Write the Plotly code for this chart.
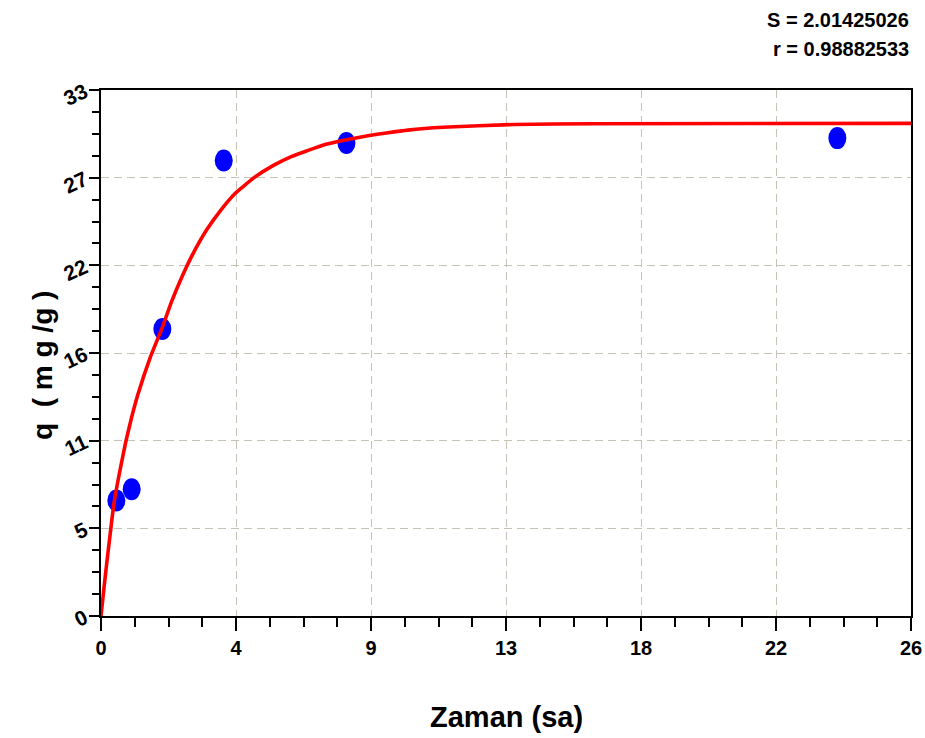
import plotly.graph_objects as go

# Measured adsorption capacity over time
time_h = [0.5, 1, 2, 4, 8, 24]
q_obs = [7.2, 7.9, 17.9, 28.4, 29.5, 29.8]

# Fitted kinetic curve (sampled)
fit_t = [0, 0.1, 0.2, 0.42, 0.6, 0.8, 1.0, 1.2, 1.6, 2.0, 2.3, 2.65, 3.0,
         3.45, 3.9, 4.37, 5.0, 5.62, 6.2, 6.7, 7.3, 8.0, 8.7, 9.3, 10.0,
         11.15, 13.45, 16.0, 26.4]
fit_q = [0, 1.8, 3.5, 7.0, 8.9, 10.8, 12.4, 13.8, 16.1, 18.0, 19.6, 21.2,
         22.6, 24.1, 25.3, 26.35, 27.35, 28.1, 28.65, 29.0, 29.4, 29.7, 29.95,
         30.12, 30.3, 30.48, 30.65, 30.7, 30.72]

# Axis extents and tick labels
x_max = 26.4
y_max = 32.8
x_tick_text = ["0", "4", "9", "13", "18", "22", "26"]
y_tick_text = ["0", "5", "11", "16", "22", "27", "33"]

fit_stats = ["S = 2.01425026", "r = 0.98882533"]

FONT = "Liberation Sans Narrow, Arial Narrow, Liberation Sans, Arial, sans-serif"
PLOT_H = 738 - 90 - 122

x_step = x_max / (len(x_tick_text) - 1)
y_step = y_max / (len(y_tick_text) - 1)
x_ticks = [i * x_step for i in range(len(x_tick_text))]
y_ticks = [i * y_step for i in range(len(y_tick_text))]

fig = go.Figure()

# Fitted curve, drawn above the data ellipses
fig.add_trace(go.Scatter(
    x=fit_t, y=fit_q, mode="lines",
    line=dict(color="#ff0000", width=3.6, shape="spline", smoothing=0.4),
    hoverinfo="skip", showlegend=False,
))

# Observed points as blue ellipses anchored at data coordinates
shapes = []
for t, q in zip(time_h, q_obs):
    shapes.append(dict(
        type="circle", xref="x", yref="y",
        xsizemode="pixel", ysizemode="pixel",
        xanchor=t, yanchor=q,
        x0=-9, x1=9, y0=-11, y1=11,
        fillcolor="#0000ff", line=dict(width=0),
        layer="below",
    ))

annotations = [
    dict(text="Zaman (sa)", xref="paper", yref="paper",
         x=0.5, y=-0.192, xanchor="center", yanchor="middle",
         showarrow=False, font=dict(family=FONT, size=29, color="black", weight=700)),
    dict(text="q  ( m g /g )", xref="paper", yref="paper",
         x=-0.073, y=0.477, xanchor="center", yanchor="middle", textangle=-90,
         showarrow=False, font=dict(family=FONT, size=28, color="black", weight=700)),
]
for i, line in enumerate(fit_stats):
    annotations.append(dict(
        text=line, xref="paper", yref="paper",
        x=1.0, y=1 + (70 - 29 * i) / PLOT_H, xanchor="right", yanchor="middle",
        showarrow=False, font=dict(family=FONT, size=20, color="black", weight=700),
    ))

axis_common = dict(
    showline=True, linecolor="black", linewidth=2, mirror=True,
    ticks="outside", tickcolor="black", tickwidth=2,
    showgrid=True, gridcolor="#c6c2b6", gridwidth=1, griddash="8px,5px",
    zeroline=False, tickmode="array", automargin=False,
)

fig.update_layout(
    width=925, height=738,
    margin=dict(l=101, r=14, t=90, b=122, autoexpand=False),
    paper_bgcolor="white", plot_bgcolor="white",
    shapes=shapes, annotations=annotations,
    xaxis=dict(
        range=[0, x_max], tickvals=x_ticks, ticktext=x_tick_text, ticklen=13,
        tickfont=dict(family=FONT, size=20, color="black", weight=700),
        minor=dict(tickmode="linear", tick0=0, dtick=x_step / 4, ticklen=9,
                   tickwidth=1.5, tickcolor="black", ticks="outside", showgrid=False),
        **axis_common,
    ),
    yaxis=dict(
        range=[0, y_max], tickvals=y_ticks, ticktext=y_tick_text, ticklen=10,
        tickangle=-25,
        tickfont=dict(family=FONT, size=21, color="black", weight=700),
        minor=dict(tickmode="linear", tick0=0, dtick=y_step / 4, ticklen=7,
                   tickwidth=1.5, tickcolor="black", ticks="outside", showgrid=False),
        **axis_common,
    ),
)

fig.write_html("out.html")
